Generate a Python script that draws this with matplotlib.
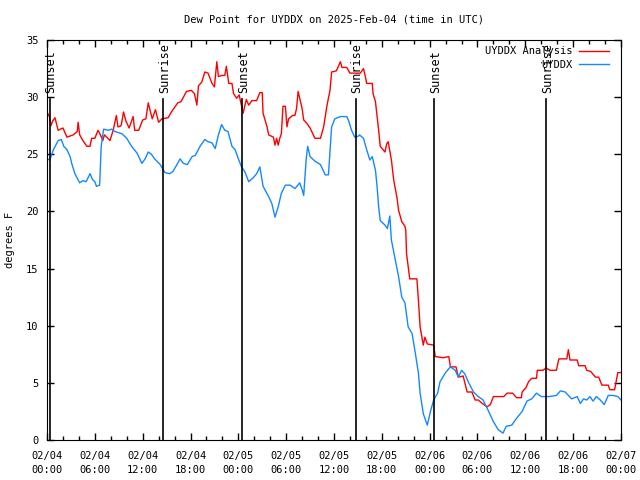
import numpy as np
import matplotlib
matplotlib.use("Agg")
import matplotlib.pyplot as plt
from matplotlib.ticker import MultipleLocator

# hours since 2025-02-04 00:00 UTC
red_h = [0.0, 0.3, 0.5, 0.7, 1.0, 1.4, 2.0, 2.5, 3.3, 3.8, 3.9, 4.1, 4.5, 5.0, 5.4, 5.6, 6.0, 6.4, 6.7, 7.0,
         7.2, 7.9, 8.3, 8.7, 8.9, 9.3, 9.6, 9.9, 10.3, 10.8, 11.0, 11.5, 12.0, 12.4, 12.7, 13.2, 13.6, 14.0, 14.4, 15.2,
         15.6, 16.4, 16.8, 17.5, 18.1, 18.5, 18.8, 19.0, 19.4, 19.8, 20.2, 20.7, 21.0, 21.3, 21.5, 21.9, 22.3, 22.5, 22.8, 23.2,
         23.4, 23.8, 24.1, 24.6, 25.0, 25.3, 25.7, 26.3, 26.7, 27.0, 27.1, 27.6, 27.8, 28.4, 28.6, 28.8, 29.0, 29.2, 29.4, 29.6,
         29.9, 30.1, 30.3, 30.8, 31.1, 31.3, 31.5, 32.0, 32.2, 32.6, 33.0, 33.6, 34.3, 34.7, 35.1, 35.5, 35.7, 36.3, 36.8, 37.0,
         37.6, 38.0, 38.6, 39.3, 39.7, 39.9, 40.1, 40.8, 40.9, 41.2, 41.6, 41.8, 42.4, 42.6, 42.8, 43.2, 43.5, 43.9, 44.1, 44.5,
         44.9, 45.0, 45.1, 45.5, 46.4, 46.6, 46.8, 47.2, 47.4, 47.7, 48.5, 48.7, 49.7, 50.4, 50.6, 51.3, 51.6, 52.2, 52.7, 53.3,
         53.7, 54.1, 54.6, 55.2, 55.6, 56.0, 57.3, 57.7, 58.4, 58.9, 59.5, 59.6, 60.1, 60.4, 60.8, 61.4, 61.5, 62.2, 62.6, 63.1,
         63.9, 64.2, 65.2, 65.4, 65.6, 66.5, 66.7, 67.5, 67.7, 68.2, 68.8, 69.2, 69.6, 70.4, 70.6, 71.2, 71.6, 72.0]
red_v = [28.7, 28.3, 27.5, 27.9, 28.2, 27.1, 27.3, 26.5, 26.7, 27.0, 27.8, 26.7, 26.2, 25.7, 25.7, 26.4, 26.4, 27.1, 26.7, 26.2,
         26.7, 26.2, 27.1, 28.4, 27.4, 27.5, 28.7, 27.9, 27.3, 28.3, 27.1, 27.1, 28.0, 28.1, 29.5, 28.1, 28.9, 27.8, 28.1, 28.2,
         28.7, 29.5, 29.6, 30.5, 30.6, 30.3, 29.3, 31.0, 31.3, 32.2, 32.1, 31.2, 30.9, 33.1, 31.8, 31.9, 31.9, 32.7, 31.2, 31.2,
         30.3, 29.9, 30.2, 28.6, 29.8, 29.3, 29.7, 29.7, 30.4, 30.4, 28.6, 27.4, 26.7, 26.5, 25.8, 26.4, 25.8, 26.4, 26.8, 29.2,
         29.2, 27.4, 28.1, 28.4, 28.4, 29.0, 30.5, 29.0, 28.0, 27.7, 27.3, 26.4, 26.4, 27.4, 29.2, 30.6, 32.2, 32.3, 33.1, 32.6,
         32.6, 32.1, 32.1, 32.1, 32.5, 31.9, 31.2, 31.2, 30.3, 29.6, 27.1, 25.7, 25.2, 25.9, 26.1, 24.5, 22.7, 21.2, 20.1, 19.1,
         18.7, 18.4, 16.3, 14.1, 14.1, 12.1, 9.9, 8.3, 9.0, 8.4, 8.3, 7.3, 7.2, 7.3, 6.4, 6.4, 5.5, 5.6, 4.2, 4.2,
         3.5, 3.5, 3.2, 2.9, 3.1, 3.8, 3.8, 4.1, 4.1, 3.7, 3.7, 4.2, 4.6, 5.1, 5.4, 5.4, 6.1, 6.1, 6.3, 6.1,
         6.1, 7.1, 7.1, 7.9, 7.0, 7.0, 6.5, 6.5, 6.1, 6.0, 5.5, 5.5, 4.8, 4.8, 4.4, 4.4, 5.9, 5.9]

blue_h = [0.0, 0.4, 0.8, 1.4, 1.8, 2.1, 2.5, 2.9, 3.1, 3.5, 4.1, 4.5, 4.9, 5.4, 5.7, 6.0, 6.2, 6.6, 6.8, 7.1,
          7.7, 8.1, 8.5, 9.4, 10.0, 10.6, 11.3, 11.9, 12.3, 12.7, 13.1, 13.5, 14.2, 14.8, 15.4, 15.8, 16.3, 16.7, 17.1, 17.6,
          18.2, 18.6, 19.2, 19.8, 20.2, 20.7, 21.1, 21.5, 21.9, 22.3, 22.7, 23.2, 23.6, 24.0, 24.4, 24.8, 25.3, 25.8, 26.3, 26.7,
          27.1, 27.8, 28.2, 28.6, 29.0, 29.4, 29.9, 30.5, 31.1, 31.7, 32.0, 32.2, 32.5, 32.7, 33.0, 33.6, 34.3, 34.7, 34.9, 35.3,
          35.4, 35.7, 36.1, 36.8, 37.6, 37.8, 38.2, 38.6, 39.1, 39.2, 39.7, 40.1, 40.5, 40.8, 41.2, 41.4, 41.6, 41.8, 42.4, 42.7,
          43.0, 43.2, 43.7, 44.1, 44.5, 44.9, 45.3, 45.8, 46.2, 46.6, 46.8, 47.2, 47.7, 48.1, 48.5, 49.0, 49.3, 50.0, 50.6, 51.2,
          51.6, 52.0, 52.4, 52.9, 53.5, 54.1, 54.7, 55.4, 56.0, 56.6, 57.2, 57.6, 58.3, 58.9, 59.6, 60.2, 60.8, 61.4, 62.0, 63.0,
          63.9, 64.4, 65.0, 65.4, 65.8, 66.5, 66.9, 67.3, 67.7, 68.1, 68.5, 68.9, 69.4, 69.9, 70.4, 71.0, 71.6, 72.0]
blue_v = [24.5, 24.6, 25.4, 26.2, 26.3, 25.7, 25.4, 24.8, 24.2, 23.3, 22.5, 22.7, 22.6, 23.3, 22.8, 22.6, 22.2, 22.3, 25.7, 27.2,
          27.1, 27.2, 27.0, 26.8, 26.4, 25.7, 25.1, 24.2, 24.6, 25.2, 25.0, 24.6, 24.1, 23.4, 23.3, 23.5, 24.1, 24.6, 24.2, 24.1,
          24.8, 24.9, 25.7, 26.3, 26.1, 26.0, 25.5, 26.7, 27.6, 27.1, 27.0, 25.7, 25.4, 24.6, 23.9, 23.5, 22.6, 22.9, 23.3, 23.9,
          22.2, 21.3, 20.7, 19.5, 20.4, 21.6, 22.3, 22.3, 22.0, 22.5, 21.9, 21.4, 24.5, 25.7, 24.8, 24.4, 24.1, 23.5, 23.2, 23.2,
          24.2, 27.4, 28.1, 28.3, 28.3, 28.0, 27.1, 26.5, 26.6, 26.7, 26.4, 25.4, 24.5, 24.8, 23.6, 22.2, 20.4, 19.2, 18.8, 18.5,
          19.6, 17.5, 15.7, 14.3, 12.5, 12.0, 9.9, 9.3, 7.6, 5.8, 4.1, 2.3, 1.3, 2.5, 3.5, 4.1, 5.1, 5.9, 6.4, 6.1,
          5.5, 6.1, 5.8, 5.0, 4.2, 3.8, 3.5, 2.5, 1.6, 0.9, 0.6, 1.2, 1.3, 1.9, 2.5, 3.4, 3.6, 4.1, 3.8, 3.8,
          3.9, 4.3, 4.2, 3.9, 3.6, 3.8, 3.2, 3.6, 3.5, 3.8, 3.4, 3.8, 3.5, 3.1, 3.9, 3.9, 3.8, 3.5]

sun_h = [0.38, 14.6, 24.5, 38.7, 48.6, 62.65]
sun_names = ["Sunset", "Sunrise", "Sunset", "Sunrise", "Sunset", "Sunrise"]

xtick_h = list(range(0, 73, 6))
xtick_labels = ["02/04\n00:00", "02/04\n06:00", "02/04\n12:00", "02/04\n18:00",
                "02/05\n00:00", "02/05\n06:00", "02/05\n12:00", "02/05\n18:00",
                "02/06\n00:00", "02/06\n06:00", "02/06\n12:00", "02/06\n18:00",
                "02/07\n00:00"]

plt.rcParams['font.family'] = ['DejaVu Sans Mono']
plt.rcParams['font.size'] = 7

fig = plt.figure(figsize=(6.4, 4.8), dpi=100)
ax = fig.add_axes([47/640, 1-440/480, 574/640, 400/480])

ax.plot(red_h, red_v, color="#ff0000", lw=1.0, label="UYDDX Analysis")
ax.plot(blue_h, blue_v, color="#1488ff", lw=1.0, label="UYDDX")

for h, name in zip(sun_h, sun_names):
    ax.plot([h, h], [0, 29.8], color="black", lw=1.2)
    ax.text(h + 0.15, 30.4, name, rotation=90, ha="center", va="bottom", fontsize=8.5)

ax.set_xlim(0, 72)
ax.set_ylim(0, 35)
ax.set_xticks(xtick_h)
ax.set_xticklabels(xtick_labels, linespacing=1.45)
ax.xaxis.set_minor_locator(MultipleLocator(2))
ax.set_yticks(range(0, 36, 5))
ax.tick_params(which="both", direction="in", top=True, right=True, labelsize=7.5)
ax.tick_params(which="major", length=5, width=1)
ax.tick_params(which="minor", length=3, width=1)
ax.tick_params(axis="x", pad=8)
ax.tick_params(axis="y", pad=6)

leg = ax.legend(loc="upper right", bbox_to_anchor=(0.9895, 1.0), frameon=False, markerfirst=False,
                fontsize=7.5, handlelength=2.9, labelspacing=0.35, borderaxespad=0.2, handletextpad=0.6)

fig.text(334/640, 1-19/480, "Dew Point for UYDDX on 2025-Feb-04 (time in UTC)",
         ha="center", va="center", fontsize=7.5)
fig.text(10/640, 0.5, "degrees F", rotation=90, ha="center", va="center", fontsize=7.5)

plt.savefig("out.png", dpi=100)
plt.close()
